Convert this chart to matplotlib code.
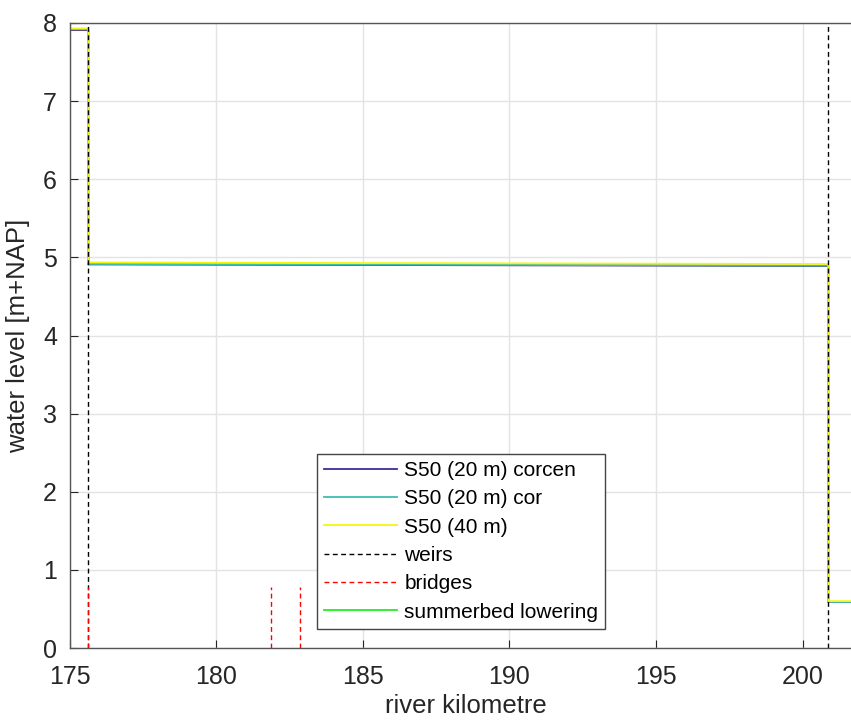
import matplotlib
matplotlib.use('Agg')
import matplotlib.pyplot as plt

plt.rcParams['font.family'] = ['Liberation Sans', 'DejaVu Sans']

# river kilometre points of the water level lines
km = [175.0, 175.64, 175.64, 200.87, 200.87, 202.0]
wl_corcen = [7.91, 7.91, 4.91, 4.89, 0.59, 0.59]
wl_cor = [7.92, 7.92, 4.915, 4.895, 0.59, 0.59]
wl_40m = [7.93, 7.93, 4.935, 4.915, 0.60, 0.60]

weirs_km = [175.64, 200.87]
weir_top = 8.0
bridges_km = [175.64, 181.87, 182.86]
bridge_top = 0.78

# summerbed lowering: nothing inside the plotted range
summerbed_km = []
summerbed_wl = []

fig = plt.figure(figsize=(8.51, 7.2), dpi=100)
ax = fig.add_axes([69.5 / 851, 72 / 720, (27 * 29.33) / 851, 625 / 720])

ax.plot(km, wl_corcen, color='#3E2A9A', lw=1.3, label='S50 (20 m) corcen')
ax.plot(km, wl_cor, color='#3CBEAC', lw=1.3, label='S50 (20 m) cor')
ax.plot(km, wl_40m, color='#F5F514', lw=1.3, label='S50 (40 m)')

for i, k in enumerate(weirs_km):
    ax.plot([k, k], [0, weir_top], color='black', ls='--', lw=1.0,
            dashes=(3.5, 2.5), label='weirs' if i == 0 else None)
for i, k in enumerate(bridges_km):
    ax.plot([k, k], [0, bridge_top], color='red', ls='--', lw=1.0,
            dashes=(3.5, 2.5), label='bridges' if i == 0 else None)
ax.plot(summerbed_km, summerbed_wl, color='#22EE22', lw=1.3, label='summerbed lowering')

ax.set_xlim(175, 202)
ax.set_ylim(0, 8)
ax.set_xticks([175, 180, 185, 190, 195, 200])
ax.set_yticks(range(0, 9))
ax.grid(True, color='#E3E3E3', lw=1.0)
ax.set_axisbelow(True)
ax.tick_params(direction='in', length=6, labelsize=18, colors='#262626')
ax.tick_params(axis='x', pad=12)
ax.tick_params(axis='y', pad=9)
for s in ax.spines.values():
    s.set_color('#555555')
    s.set_linewidth(1.0)

ax.set_xlabel('river kilometre', fontsize=18.5, color='#262626', labelpad=4)
ax.set_ylabel('water level [m+NAP]', fontsize=18.5, color='#262626', labelpad=9)

leg = ax.legend(loc='lower left', bbox_to_anchor=((316.7 - 69.5) / (27 * 29.33), (648 - 629) / 625),
                fontsize=15, handlelength=3.5, labelspacing=0.45, handletextpad=0.35,
                borderpad=0.35, fancybox=False, framealpha=1, borderaxespad=0)
leg.get_frame().set_edgecolor('#444444')
leg.get_frame().set_linewidth(1.0)

fig.savefig('out.png', dpi=100)
